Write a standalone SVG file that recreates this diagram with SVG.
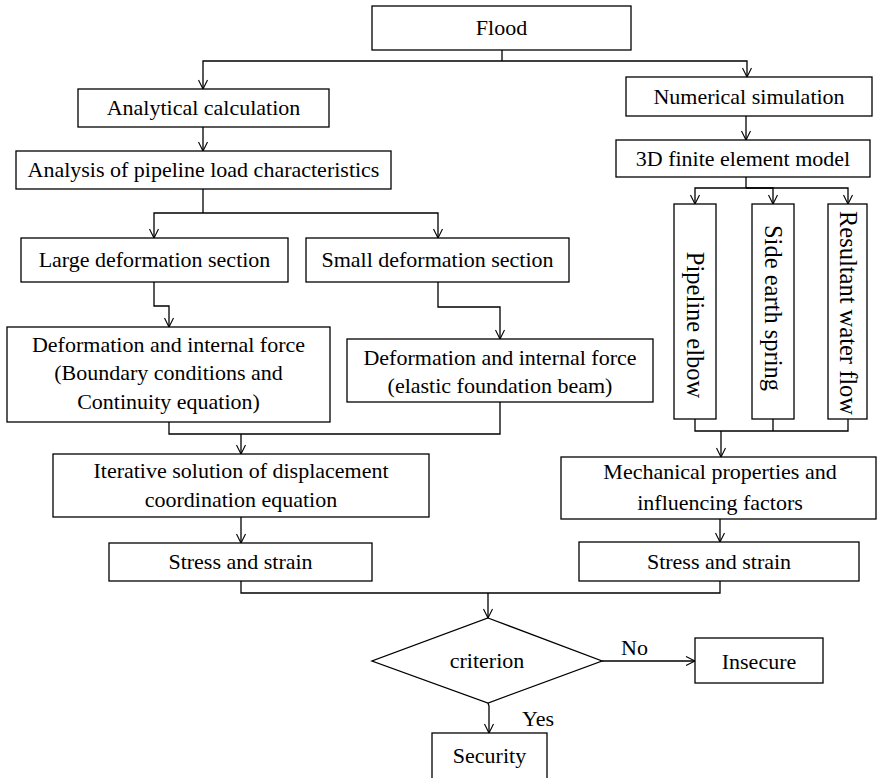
<svg xmlns="http://www.w3.org/2000/svg" width="877" height="778" viewBox="0 0 877 778">
<style>
.b{fill:#fff;stroke:#000;stroke-width:1.3}
.c{fill:none;stroke:#000;stroke-width:1.3}
text{font-family:"Liberation Serif","Times New Roman",serif;font-size:22px;fill:#000;text-anchor:middle}
.v{font-size:24.5px}
.l{text-anchor:start}
</style>
<defs>
<marker id="a" markerWidth="12" markerHeight="12" refX="10" refY="6" orient="auto" markerUnits="userSpaceOnUse">
<polyline points="1,1.5 10,6 1,10.5" fill="none" stroke="#000" stroke-width="1.1"/>
</marker>
</defs>
<rect width="877" height="778" fill="#fff"/>
<g id="connectors">
<path class="c" d="M502,50 V61"/>
<path class="c" d="M502,61 H203 V89" marker-end="url(#a)"/>
<path class="c" d="M502,61 H747 V77" marker-end="url(#a)"/>
<path class="c" d="M203,127 V151" marker-end="url(#a)"/>
<path class="c" d="M746,116 V140" marker-end="url(#a)"/>
<path class="c" d="M746,177 V188"/>
<path class="c" d="M746,188 H695 V204" marker-end="url(#a)"/>
<path class="c" d="M746,188 H773 V204" marker-end="url(#a)"/>
<path class="c" d="M746,188 H848 V204" marker-end="url(#a)"/>
<path class="c" d="M203,189 V213"/>
<path class="c" d="M203,213 H154 V238" marker-end="url(#a)"/>
<path class="c" d="M203,213 H438 V238" marker-end="url(#a)"/>
<path class="c" d="M154,282 V306 H169 V327" marker-end="url(#a)"/>
<path class="c" d="M438,282 V307 H500 V339" marker-end="url(#a)"/>
<path class="c" d="M169,422 V434 H500 V402"/>
<path class="c" d="M241,434 V454" marker-end="url(#a)"/>
<path class="c" d="M241,517 V543" marker-end="url(#a)"/>
<path class="c" d="M695,419 V431 H848 V419 M773,419 V431"/>
<path class="c" d="M721,431 V457" marker-end="url(#a)"/>
<path class="c" d="M720,519 V542" marker-end="url(#a)"/>
<path class="c" d="M241,581 V593 H720 V581"/>
<path class="c" d="M488,593 V618" marker-end="url(#a)"/>
<path class="c" d="M602,661 H695" marker-end="url(#a)"/>
<path class="c" d="M488,703 L489,706 V733" marker-end="url(#a)"/>
</g>
<g id="flood"><rect class="b" x="372" y="6" width="259" height="44"/><text x="501.5" y="35">Flood</text></g>
<g id="analytical"><rect class="b" x="78" y="89" width="251" height="38"/><text x="203.5" y="115">Analytical calculation</text></g>
<g id="numerical"><rect class="b" x="626" y="77" width="246" height="39"/><text x="749" y="104">Numerical simulation</text></g>
<g id="analysis"><rect class="b" x="16" y="151" width="375" height="38"/><text x="203.5" y="177">Analysis of pipeline load characteristics</text></g>
<g id="fem"><rect class="b" x="616" y="140" width="254" height="37"/><text x="743" y="166">3D finite element model</text></g>
<g id="large"><rect class="b" x="21" y="238" width="267" height="44"/><text x="154.5" y="267">Large deformation section</text></g>
<g id="small"><rect class="b" x="306" y="238" width="263" height="44"/><text x="437.5" y="267">Small deformation section</text></g>
<g id="elbow"><rect class="b" x="674" y="204" width="42" height="215"/><text class="v" transform="translate(695,325) rotate(90)" y="8">Pipeline elbow</text></g>
<g id="spring"><rect class="b" x="752" y="204" width="42" height="215"/><text class="v" transform="translate(773,308) rotate(90)" y="8">Side earth spring</text></g>
<g id="water"><rect class="b" x="828" y="204" width="39" height="215"/><text class="v" transform="translate(847.5,313) rotate(90)" y="8">Resultant water flow</text></g>
<g id="deform1"><rect class="b" x="7" y="327" width="323" height="95"/><text x="168.5" y="352">Deformation and internal force</text><text x="168.5" y="380">(Boundary conditions and</text><text x="168.5" y="409">Continuity equation)</text></g>
<g id="deform2"><rect class="b" x="347" y="339" width="306" height="63"/><text x="500" y="365">Deformation and internal force</text><text x="500" y="393">(elastic foundation beam)</text></g>
<g id="iterative"><rect class="b" x="53" y="454" width="376" height="63"/><text x="241" y="478">Iterative solution of displacement</text><text x="241" y="507">coordination equation</text></g>
<g id="mechanical"><rect class="b" x="561" y="457" width="315" height="62"/><text x="720" y="479">Mechanical properties and</text><text x="720" y="510">influencing factors</text></g>
<g id="stress1"><rect class="b" x="109" y="543" width="263" height="38"/><text x="240.5" y="569">Stress and strain</text></g>
<g id="stress2"><rect class="b" x="579" y="542" width="280" height="39"/><text x="719" y="569">Stress and strain</text></g>
<g id="criterion"><polygon class="b" points="488,618 602,661 488,703 372,661"/><text x="487" y="668">criterion</text></g>
<g id="insecure"><rect class="b" x="695" y="638" width="128" height="45"/><text x="759" y="669">Insecure</text></g>
<g id="security"><rect class="b" x="432" y="733" width="115" height="60"/><text x="489.5" y="763">Security</text></g>
<g id="labels"><text class="l" x="621" y="655">No</text><text class="l" x="522" y="726">Yes</text></g>
</svg>
